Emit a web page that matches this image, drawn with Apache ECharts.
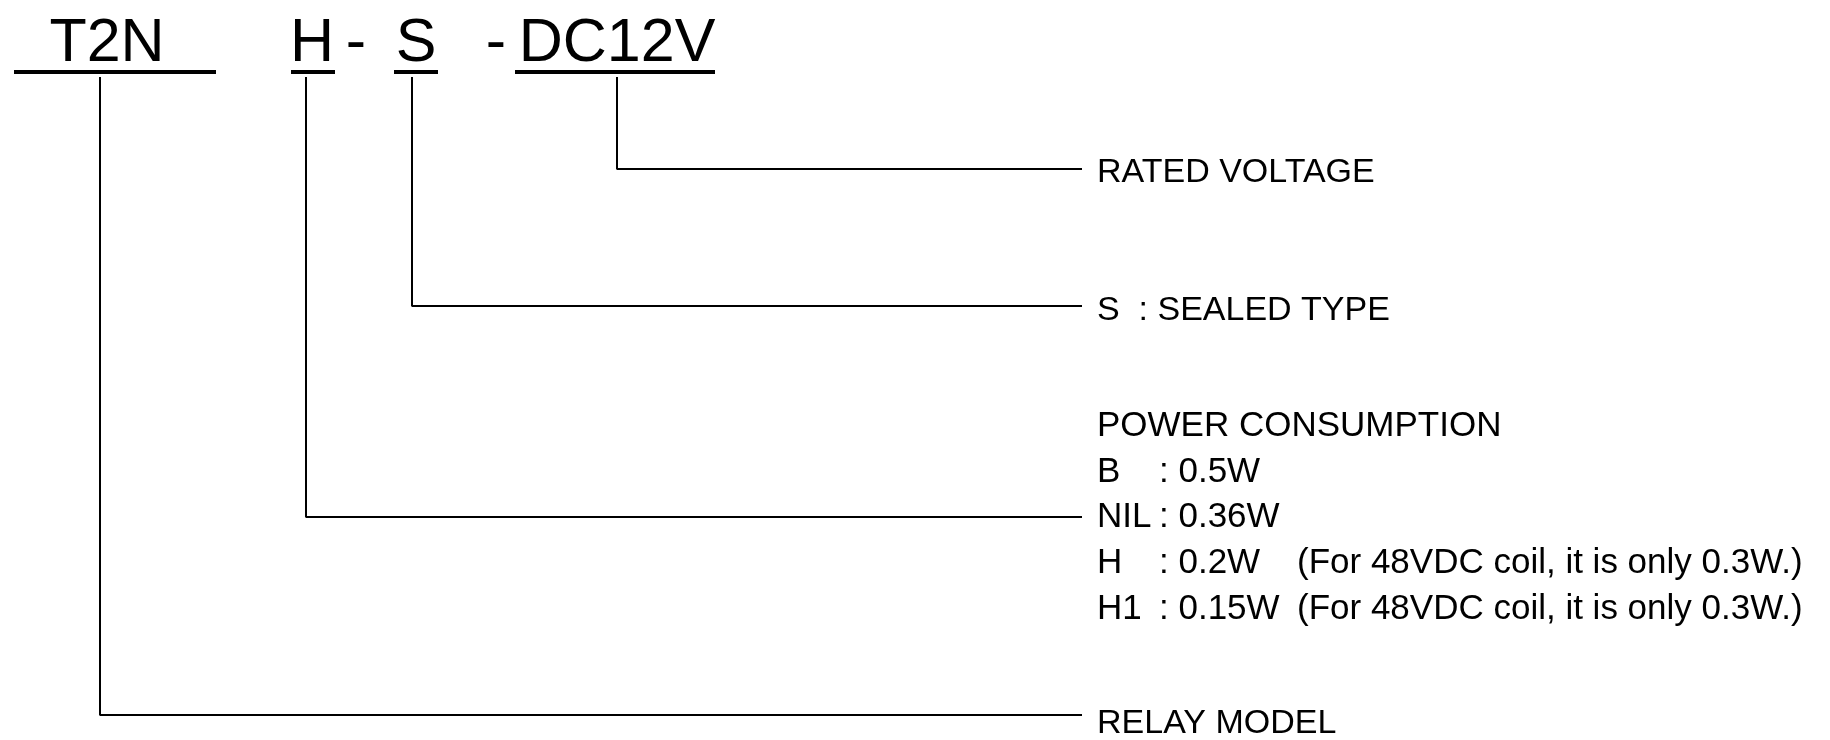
<!DOCTYPE html>
<html>
<head>
<meta charset="utf-8">
<script src="https://cdn.jsdelivr.net/npm/echarts@6/dist/echarts.min.js"></script>
<style>
  html, body { margin: 0; padding: 0; background: #fff; }
  #chart { width: 1830px; height: 740px; }
</style>
</head>
<body>
<div id="chart"></div>
<script>
// part number, split in its pieces
const codeParts = ['T2N', 'H', '-', 'S', '-', 'DC12V']
const codeX = [107, 312, 356, 416, 496, 617]

// underlined pieces: [from, to] and the stem that hangs from each
const underlines = [[14, 216], [291, 335], [394, 438], [515, 715]]
const stemX = [100, 306, 412, 617]
const branchY = [715, 517, 306, 169]
const branchEnd = 1082

// texts at the end of the branches
const branchLabels = ['RELAY MODEL', 'S  : SEALED TYPE', 'RATED VOLTAGE']
const branchLabelY = [724, 311, 173]

// power consumption table
const powerTitle = 'POWER CONSUMPTION'
const powerCodes = ['B', 'NIL', 'H', 'H1']
const powerValues = ['0.5W', '0.36W', '0.2W', '0.15W']
const powerNotes = ['', '', '(For 48VDC coil, it is only 0.3W.)', '(For 48VDC coil, it is only 0.3W.)']
const powerRows = [472, 517, 563, 609]

const FONT = '"Liberation Sans", Arial, sans-serif'
const textX = 1097
const codeRowY = 44

const textSeries = (name, data, size, align) => ({
  name,
  type: 'scatter',
  symbolSize: 0,
  silent: true,
  itemStyle: { opacity: 1 },
  data,
  label: {
    show: true,
    position: 'inside',
    align: align || 'left',
    verticalAlign: 'middle',
    color: '#000',
    opacity: 1,
    fontFamily: FONT,
    fontSize: size,
    formatter: (p) => p.data.text,
  },
})

const lineSeries = (points, width) => ({
  type: 'line',
  silent: true,
  showSymbol: false,
  symbol: 'none',
  data: points,
  lineStyle: { color: '#000', width },
})

const series = []

// big part number
series.push(textSeries('code', codeParts.map((t, i) => ({ value: [codeX[i], codeRowY], text: t })), 61, 'center'))

// underlines
underlines.forEach(([a, b]) => {
  series.push(lineSeries([[a, 72], [b, 72]], 4))
})

// stems and branches
stemX.forEach((x, i) => {
  series.push(lineSeries([[x, 77], [x, branchY[i]], [branchEnd, branchY[i]]], 2))
})

// branch texts
series.push(textSeries('branch', branchLabels.map((t, i) => ({ value: [textX, branchLabelY[i]], text: t })), 34))

// power table
const powerData = [{ value: [textX, 426], text: powerTitle }]
powerCodes.forEach((c, i) => {
  powerData.push({ value: [textX, powerRows[i]], text: c })
  powerData.push({ value: [1159, powerRows[i]], text: ': ' + powerValues[i] })
  if (powerNotes[i]) {
    powerData.push({ value: [1297, powerRows[i]], text: powerNotes[i] })
  }
})
series.push(textSeries('power', powerData, 35))

const chart = echarts.init(document.getElementById('chart'))
chart.setOption({
  animation: false,
  backgroundColor: '#fff',
  grid: { left: 0, right: 0, top: 0, bottom: 0 },
  xAxis: { type: 'value', min: 0, max: 1830, show: false },
  yAxis: { type: 'value', min: 0, max: 740, inverse: true, show: false },
  series,
})
</script>
</body>
</html>
